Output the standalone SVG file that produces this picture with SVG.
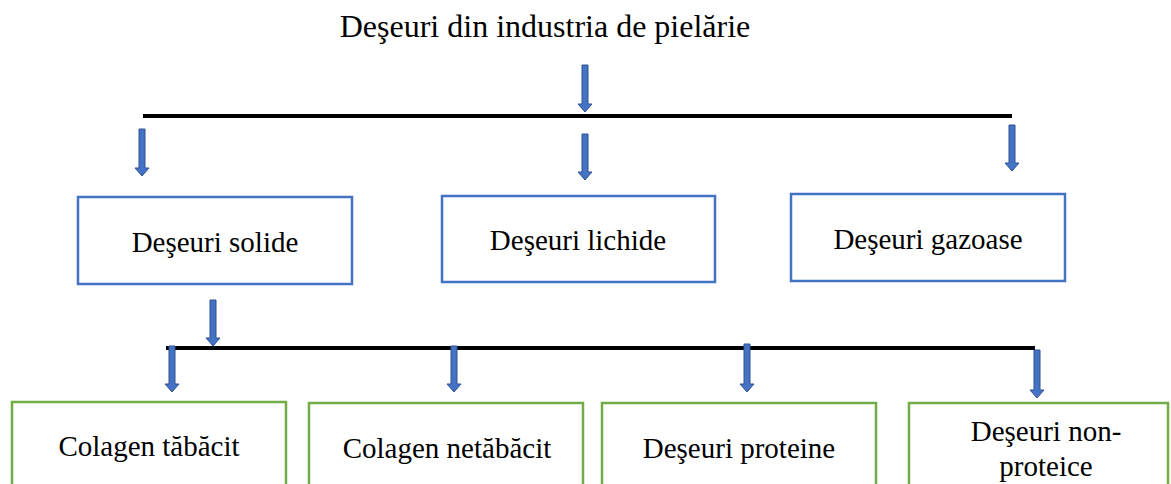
<svg xmlns="http://www.w3.org/2000/svg" width="1171" height="484" viewBox="0 0 1171 484">
<style>
.bb{fill:#fff;stroke:#4472C4;stroke-width:2.5}
.gb{fill:#fff;stroke:#70AD47;stroke-width:2.5}
.ln{stroke:#000;stroke-width:4;fill:none}
.ar{fill:#4472C4;stroke:#2F528F;stroke-width:1}
text{font-family:'Liberation Serif','Times New Roman',Times,serif;fill:#000;text-anchor:middle;font-size:29px}
text.tt{font-size:32px}
</style>
<g id="title"><text class="tt" x="545" y="37">Deşeuri din industria de pielărie</text></g>
<g id="connectors">
<line class="ln" x1="143" y1="116" x2="1012" y2="116"/>
<line class="ln" x1="166" y1="348" x2="1035" y2="348"/>
<path class="ar" d="M582,65 H588 V104 H592 L585,112 L578,104 H582 Z"/>
<path class="ar" d="M139,129 H145 V168 H149 L142,176 L135,168 H139 Z"/>
<path class="ar" d="M582,134 H588 V172 H592 L585,180 L578,172 H582 Z"/>
<path class="ar" d="M1009,125 H1015 V163 H1019 L1012,171 L1005,163 H1009 Z"/>
<path class="ar" d="M210,300 H216 V338 H220 L213,346 L206,338 H210 Z"/>
<path class="ar" d="M169,346 H175 V384 H179 L172,392 L165,384 H169 Z"/>
<path class="ar" d="M451,346 H457 V384 H461 L454,392 L447,384 H451 Z"/>
<path class="ar" d="M744,344 H750 V384 H754 L747,392 L740,384 H744 Z"/>
<path class="ar" d="M1034,350 H1040 V390 H1044 L1037,398 L1030,390 H1034 Z"/>
</g>
<g id="solide"><rect class="bb" x="78" y="197" width="274" height="87"/><text x="215" y="252">Deşeuri solide</text></g>
<g id="lichide"><rect class="bb" x="442" y="196" width="273" height="86"/><text x="578" y="250">Deşeuri lichide</text></g>
<g id="gazoase"><rect class="bb" x="791" y="194" width="274" height="87"/><text x="928" y="249">Deşeuri gazoase</text></g>
<g id="tabacit"><rect class="gb" x="12" y="402" width="274" height="100"/><text x="149" y="456">Colagen tăbăcit</text></g>
<g id="netabacit"><rect class="gb" x="309" y="403" width="274" height="100"/><text x="447" y="458">Colagen netăbăcit</text></g>
<g id="proteine"><rect class="gb" x="602" y="403" width="274" height="100"/><text x="739" y="458">Deşeuri proteine</text></g>
<g id="nonproteice"><rect class="gb" x="909" y="403" width="259" height="100"/><text x="1046" y="441">Deşeuri non-</text><text x="1046" y="476">proteice</text></g>
</svg>
